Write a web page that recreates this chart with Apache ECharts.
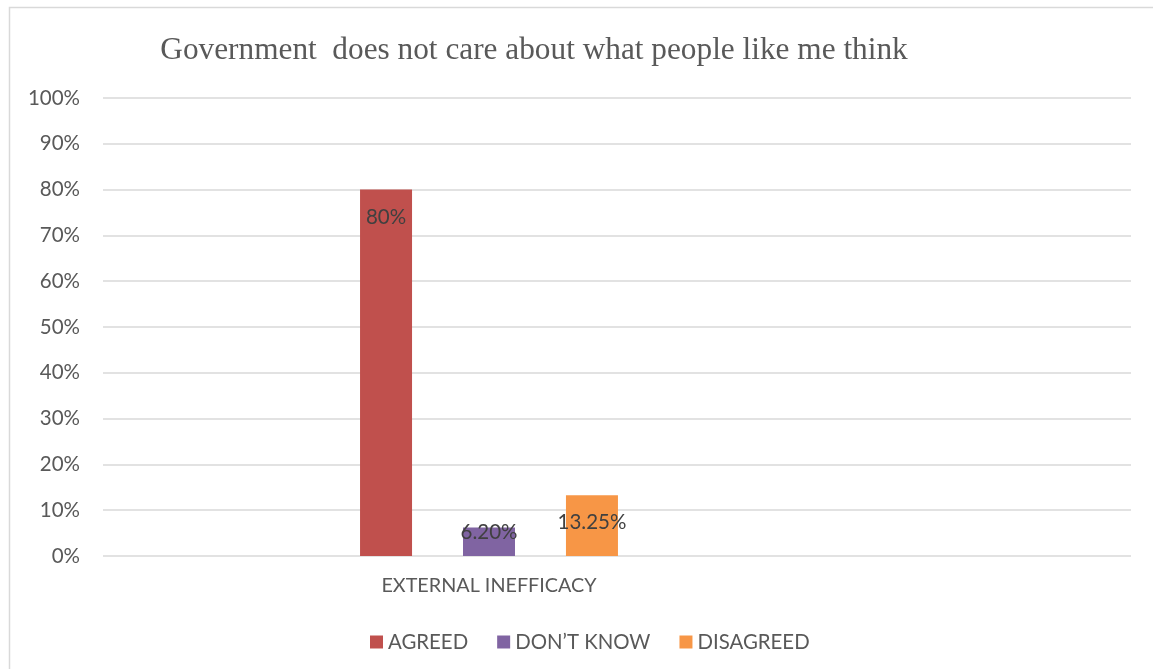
<!DOCTYPE html>
<html>
<head>
<meta charset="utf-8">
<script src="https://cdn.jsdelivr.net/npm/echarts@6/dist/echarts.min.js"></script>
<style>
  html, body { margin: 0; padding: 0; background: #fff; }
  #chart { width: 1153px; height: 669px; }
</style>
</head>
<body>
<div id="chart"></div>
<script>
// data
var categories = ['EXTERNAL INEFFICACY'];
var seriesNames = ['AGREED', 'DON\u2019T KNOW', 'DISAGREED'];
var agreed = [80];
var dontKnow = [6.20];
var disagreed = [13.25];
var labelTexts = ['80%', '6.20%', '13.25%'];
var yTicks = [0, 10, 20, 30, 40, 50, 60, 70, 80, 90, 100];

// red, purple, orange
var colorPalette = ['#c0504d', '#8064a2', '#f79646'];
var textGrey = '#595959';
var font = 'Lato';

var chart = echarts.init(document.getElementById('chart'));

function barSeries(i, values, labelOpt) {
  return {
    name: seriesNames[i],
    type: 'bar',
    xAxisIndex: 1,
    yAxisIndex: 1,
    barWidth: 52,
    barGap: '98%',
    color: colorPalette[i],
    data: values,
    label: Object.assign({
      show: true,
      color: '#404040',
      fontFamily: font,
      fontSize: 20.5,
      formatter: function () { return labelTexts[i]; }
    }, labelOpt)
  };
}

var option = {
  animation: false,
  backgroundColor: '#fff',
  graphic: [
    {
      type: 'rect',
      shape: { x: 9.5, y: 7.5, width: 1160, height: 680 },
      style: { fill: 'none', stroke: '#d9d9d9', lineWidth: 1.5 },
      silent: true
    }
  ],
  title: {
    text: 'Government  does not care about what people like me think',
    left: 529,
    textAlign: 'center',
    top: 30,
    textStyle: {
      fontFamily: 'Liberation Serif',
      fontWeight: 'normal',
      fontSize: 31.3,
      color: textGrey
    }
  },
  legend: {
    data: seriesNames,
    left: 370,
    top: 632,
    padding: 0,
    icon: 'rect',
    itemWidth: 13,
    itemHeight: 13,
    itemGap: 29,
    itemTextGap: 7,
    textStyle: { fontFamily: font, fontSize: 20.4, color: textGrey }
  },
  grid: [
    // full width grid for gridlines and y labels
    { left: 103, right: 22, top: 98, bottom: 669 - 556 },
    // narrower grid holding the bars, centred at the category label
    { left: 103, width: 772, top: 98, bottom: 669 - 556 }
  ],
  xAxis: [
    {
      gridIndex: 0,
      type: 'category',
      data: [''],
      axisLine: { show: false },
      axisTick: { show: false },
      axisLabel: { show: false }
    },
    {
      gridIndex: 1,
      type: 'category',
      data: categories,
      axisLine: { show: false },
      axisTick: { show: false },
      axisLabel: { color: textGrey, fontFamily: font, fontSize: 19.8, margin: 20 }
    }
  ],
  yAxis: [
    {
      gridIndex: 0,
      type: 'value',
      min: yTicks[0],
      max: yTicks[yTicks.length - 1],
      interval: 10,
      axisLine: { show: false },
      axisTick: { show: false },
      axisLabel: {
        color: textGrey, fontFamily: font, fontSize: 20.5, margin: 23,
        formatter: '{value}%'
      },
      splitLine: { lineStyle: { color: '#d9d9d9', width: 1.5 } }
    },
    {
      gridIndex: 1,
      type: 'value',
      min: yTicks[0],
      max: yTicks[yTicks.length - 1],
      interval: 10,
      show: false,
      splitLine: { show: false }
    }
  ],
  series: [
    barSeries(0, agreed, { position: 'insideTop', distance: 17 }),
    barSeries(1, dontKnow, { position: 'insideTop', distance: -6 }),
    barSeries(2, disagreed, { position: 'insideTop', distance: 17 })
  ]
};

chart.setOption(option);
</script>
</body>
</html>
